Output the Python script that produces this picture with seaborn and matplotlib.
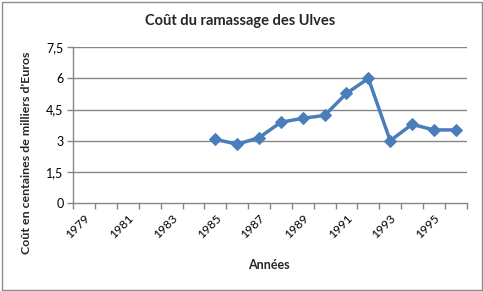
import matplotlib
matplotlib.use("Agg")
import matplotlib.pyplot as plt
import seaborn as sns
import pandas as pd
from matplotlib.patches import Rectangle
from matplotlib.ticker import FixedLocator

sns.set_theme(style="white")
plt.rcParams['font.family'] = ['Lato', 'DejaVu Sans']

years = [1985, 1986, 1987, 1988, 1989, 1990, 1991, 1992, 1993, 1994, 1995, 1996]
costs = [3.07, 2.83, 3.15, 3.89, 4.08, 4.22, 5.28, 6.0, 3.0, 3.79, 3.52, 3.52]
tick_years = [1979, 1981, 1983, 1985, 1987, 1989, 1991, 1993, 1995]
y_ticks = [0, 1.5, 3, 4.5, 6, 7.5]
y_labels = ["0", "1,5", "3", "4,5", "6", "7,5"]

df = pd.DataFrame({"Année": years, "Coût": costs})

W, H = 483, 291
fig = plt.figure(figsize=(W / 100, H / 100), dpi=100)
ax = fig.add_axes([73.3 / W, 1 - 203 / H, (466.7 - 73.3) / W, (203 - 47.3) / H])

grid_c = "#868686"
for v in y_ticks[1:]:
    ax.axhline(v, color=grid_c, lw=1.0, zorder=0)

sns.lineplot(data=df, x="Année", y="Coût", ax=ax, color="#4A7EBB", lw=2.5,
             marker="D", markersize=6.5, markeredgecolor="#4A7EBB", zorder=3)

ax.set_xlim(1978.5, 1996.5)
ax.set_ylim(0, 7.5)
ax.set_xticks(tick_years)
ax.set_xticklabels([str(y) for y in tick_years], rotation=45, ha="right",
                   rotation_mode="anchor", fontsize=8.8, color="#000000")
ax.xaxis.set_minor_locator(FixedLocator([1978.5 + i for i in range(19)]))
ax.tick_params(axis="x", which="major", length=0, pad=7)
ax.tick_params(axis="x", which="minor", length=4, width=1, color=grid_c, direction="out", bottom=True)
ax.set_yticks(y_ticks)
ax.set_yticklabels(y_labels, fontsize=9, color="#000000")
ax.tick_params(axis="y", length=4, width=1, color=grid_c, direction="out", left=True, pad=3)

for s in ["top", "right"]:
    ax.spines[s].set_visible(False)
for s in ["left", "bottom"]:
    ax.spines[s].set_color(grid_c)
    ax.spines[s].set_linewidth(1.0)

ax.set_xlabel("")
ax.set_ylabel("")

fig.text(240 / W, 1 - 21 / H, "Coût du ramassage des Ulves", ha="center", va="center",
         fontsize=10.5, fontweight="bold")
fig.text(269 / W, 1 - 265 / H, "Années", ha="center", va="center", fontsize=9, fontweight="bold")
fig.text(27 / W, 1 - 153 / H, "Coût en centaines de milliers d'Euros", ha="center", va="center",
         rotation=90, fontsize=8.9, fontweight="bold")

fig.patches.append(Rectangle((1.5 / W, 1.5 / H), (W - 3) / W, (H - 3) / H, transform=fig.transFigure,
                             fill=False, edgecolor="#8C8C8C", lw=1))

fig.savefig("out.png", dpi=100)
